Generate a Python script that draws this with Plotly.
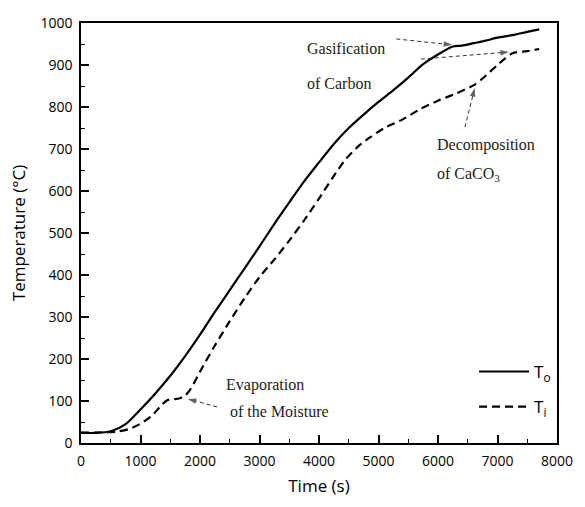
import plotly.graph_objects as go

# ---- data ----
time_o = [0, 250, 500, 750, 1000, 1250, 1500, 1750, 2000, 2250, 2500, 2750, 3000,
          3250, 3500, 3750, 4000, 4250, 4500, 4750, 5000, 5250, 5500, 5750, 6000,
          6250, 6400, 6600, 6800, 7000, 7250, 7500, 7700]
temp_o = [24, 24, 28, 45, 80, 118, 160, 207, 258, 312, 364, 416, 468,
          522, 573, 623, 668, 712, 750, 782, 812, 840, 870, 902, 925,
          944, 946, 952, 958, 965, 971, 979, 985]

time_i = [0, 300, 600, 800, 1000, 1200, 1350, 1450, 1550, 1650, 1750, 1850, 2000,
          2250, 2500, 2750, 3000, 3250, 3500, 3750, 4000, 4250, 4450, 4650, 4850,
          5100, 5400, 5700, 6000, 6300, 6600, 6750, 7000, 7250, 7500, 7700]
temp_i = [25, 25, 27, 33, 46, 66, 90, 102, 104, 106, 113, 130, 170,
          232, 290, 345, 395, 437, 482, 530, 582, 636, 676, 705, 727,
          750, 770, 795, 815, 832, 852, 868, 900, 928, 933, 938]

series_names = ["T<sub>o</sub>", "T<sub>i</sub>"]

x_ticks = [0, 1000, 2000, 3000, 4000, 5000, 6000, 7000, 8000]
y_ticks = [0, 100, 200, 300, 400, 500, 600, 700, 800, 900, 1000]

# annotation texts: (text, x, y)
notes = [
    ("Gasification", 3770, 940),
    ("of Carbon", 3770, 857),
    ("Decomposition", 5942, 710),
    ("of CaCO<sub>3</sub>", 5942, 640),
    ("Evaporation", 2403, 138),
    ("of the Moisture", 2469, 74),
]
# pointer arrows: (tail x, tail y, tip x, tip y)
arrows = [
    (5300, 962, 6239, 948),
    (5712, 914, 7193, 931),
    (6453, 752, 6617, 845),
    (2288, 86, 1794, 105),
]

SANS = "Open Sans, DejaVu Sans, sans-serif"
SERIF = "Liberation Serif, Times New Roman, serif"

fig = go.Figure()
fig.add_trace(go.Scatter(x=time_o, y=temp_o, mode="lines", name=series_names[0],
                         line=dict(color="black", width=2.2, shape="spline", smoothing=0.7),
                         legendgroup="o"))
fig.add_trace(go.Scatter(x=time_i, y=temp_i, mode="lines", name=series_names[1],
                         line=dict(color="black", width=2.2, dash="8px,5px",
                                   shape="spline", smoothing=0.7),
                         legendgroup="i"))

# dashed pointer arrows with an arrow-head marker at the tip
for x0, y0, x1, y1 in arrows:
    fig.add_trace(go.Scatter(
        x=[x0, x1], y=[y0, y1], mode="lines+markers", showlegend=False,
        hoverinfo="skip",
        line=dict(color="#333", width=1, dash="4px,3px"),
        marker=dict(symbol=["circle", "arrow"], size=[0.1, 9], angleref="previous",
                    color="#222", line=dict(width=0)),
    ))

annotations = []
for txt, x, y in notes:
    annotations.append(dict(x=x, y=y, xref="x", yref="y", text=txt, showarrow=False,
                            xanchor="left", yanchor="middle",
                            font=dict(family=SERIF, size=16, color="#222")))

axis_common = dict(
    showline=True, linecolor="black", linewidth=1.5, mirror=True,
    ticks="inside", ticklen=8, tickwidth=1.5, tickcolor="black",
    showgrid=False, zeroline=False,
    tickfont=dict(family=SANS, size=14, color="black"),
)

fig.update_layout(
    width=585, height=507,
    margin=dict(l=81, r=18, t=23, b=64),
    paper_bgcolor="white", plot_bgcolor="white",
    xaxis=dict(range=[0, 8000], tickvals=x_ticks,
               minor=dict(dtick=500, tick0=0, ticks="inside", ticklen=4,
                          tickwidth=1.2, tickcolor="black"),
               title=dict(text="Time (s)", font=dict(family=SANS, size=17, color="black"),
                          standoff=12),
               ticklabelstandoff=4,
               **axis_common),
    yaxis=dict(range=[0, 1000], tickvals=y_ticks,
               minor=dict(dtick=50, tick0=0, ticks="inside", ticklen=4,
                          tickwidth=1.2, tickcolor="black"),
               title=dict(text="Temperature (°C)", font=dict(family=SANS, size=17, color="black"),
                          standoff=10),
               ticklabelstandoff=4,
               **axis_common),
    showlegend=True,
    legend=dict(x=0.998, y=0.212, xanchor="right", yanchor="top",
                bgcolor="rgba(0,0,0,0)", tracegroupgap=10, itemwidth=50,
                font=dict(family=SANS, size=17, color="black")),
    annotations=annotations,
)

fig.write_html("out.html")
